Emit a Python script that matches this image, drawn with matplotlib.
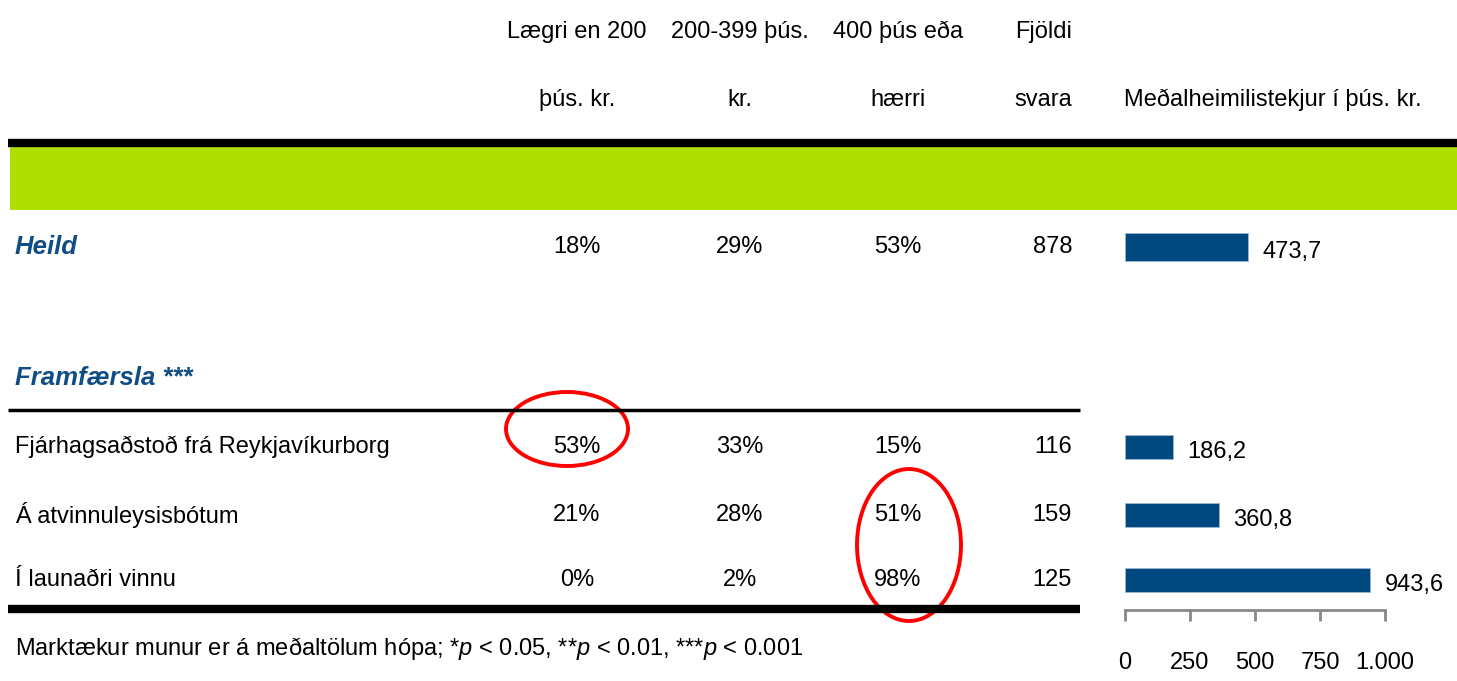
import matplotlib
matplotlib.use("Agg")
import matplotlib.pyplot as plt
from matplotlib.patches import Ellipse, Rectangle

# table data
col_heads = ["Lægri en 200\nþús. kr.", "200-399 þús.\nkr.", "400 þús eða\nhærri"]
count_head = "Fjöldi\nsvara"
bar_head = "Meðalheimilistekjur í þús. kr."
total_label = "Heild"
total_pct = ["18%", "29%", "53%"]
total_n = "878"
total_mean = 473.7
group_label = "Framfærsla ***"
rows = ["Fjárhagsaðstoð frá Reykjavíkurborg", "Á atvinnuleysisbótum", "Í launaðri vinnu"]
row_pct = [["53%", "33%", "15%"], ["21%", "28%", "51%"], ["0%", "2%", "98%"]]
row_n = ["116", "159", "125"]
row_mean = [186.2, 360.8, 943.6]
x_ticks = [0, 250, 500, 750, 1000]
x_ticklabels = ["0", "250", "500", "750", "1.000"]

FONT = ["Liberation Sans", "DejaVu Sans"]
plt.rcParams["font.family"] = FONT
plt.rcParams["mathtext.fontset"] = "custom"
plt.rcParams["mathtext.rm"] = "Liberation Sans"
plt.rcParams["mathtext.it"] = "Liberation Sans:italic"

BLUE = "#004880"
TITLE_BLUE = "#114D85"
GREEN = "#AEDF00"
W, H = 1457, 681
FS = 17

fig = plt.figure(figsize=(W / 100, H / 100), dpi=100)
ax = fig.add_axes([0, 0, 1, 1])
ax.set_xlim(0, W)
ax.set_ylim(H, 0)
ax.axis("off")

col_x = [577, 740, 898]
n_x = 1072
row_y = [447, 515, 580]
total_y = 247

# header
for x, t in zip(col_x, col_heads):
    l1, l2 = t.split("\n")
    ax.text(x, 32, l1, ha="center", va="center", fontsize=FS)
    ax.text(x, 100, l2, ha="center", va="center", fontsize=FS)
l1, l2 = count_head.split("\n")
ax.text(n_x, 32, l1, ha="right", va="center", fontsize=FS)
ax.text(n_x, 100, l2, ha="right", va="center", fontsize=FS)
ax.text(1273, 100, bar_head, ha="center", va="center", fontsize=FS)

# rules and band
ax.plot([8, W], [143, 143], color="black", lw=6, solid_capstyle="butt")
ax.add_patch(Rectangle((10, 147), W - 10, 63, color=GREEN, lw=0))
ax.plot([8, 1080], [410, 410], color="black", lw=2.5, solid_capstyle="butt")
ax.plot([8, 1080], [609, 609], color="black", lw=6, solid_capstyle="butt")

# total row
ax.text(15, total_y, total_label, ha="left", va="center", fontsize=18.5,
        color=TITLE_BLUE, fontweight="bold", fontstyle="italic")
for x, v in zip(col_x, total_pct):
    ax.text(x, total_y, v, ha="center", va="center", fontsize=FS)
ax.text(n_x, total_y, total_n, ha="right", va="center", fontsize=FS)

ax.text(15, 378, group_label, ha="left", va="center", fontsize=18.5,
        color=TITLE_BLUE, fontweight="bold", fontstyle="italic")

for y, lab, pcts, n in zip(row_y, rows, row_pct, row_n):
    ax.text(15, y, lab, ha="left", va="center", fontsize=FS)
    for x, v in zip(col_x, pcts):
        ax.text(x, y, v, ha="center", va="center", fontsize=FS)
    ax.text(n_x, y, n, ha="right", va="center", fontsize=FS)

ax.text(15, 648, r"Marktækur munur er á meðaltölum hópa; *$\it{p}$ < 0.05, "
        r"**$\it{p}$ < 0.01, ***$\it{p}$ < 0.001",
        ha="left", va="center", fontsize=FS)

# red circles
ax.add_patch(Ellipse((567, 429), 122, 74, fill=False, ec="red", lw=2.8))
ax.add_patch(Ellipse((909, 545), 104, 152, fill=False, ec="red", lw=2.8))

# bar panel
bx0, bx1 = 1125, 1385
ytop, ybot = 225, 610
bax = fig.add_axes([bx0 / W, 1 - ybot / H, (bx1 - bx0) / W, (ybot - ytop) / H])
bax.set_xlim(0, 1000)
bax.set_ylim(ybot, ytop)
bax.patch.set_alpha(0)
means = [total_mean] + row_mean
ys = [total_y] + row_y
heights = [28] + [24] * len(row_mean)
bax.barh(ys, means, height=heights, color=BLUE, edgecolor="#9DB7D0", lw=0.6)
for y, m in zip(ys, means):
    bax.text(m + 55, y + 5, f"{m:.1f}".replace(".", ","), ha="left", va="center",
             fontsize=FS, clip_on=False)
for s in ["top", "right", "left"]:
    bax.spines[s].set_visible(False)
bax.spines["bottom"].set_color("#888888")
bax.spines["bottom"].set_linewidth(2)
bax.set_yticks([])
bax.set_xticks(x_ticks)
bax.set_xticklabels(x_ticklabels, fontsize=FS)
bax.tick_params(axis="x", direction="out", length=8, width=2, color="#888888", pad=22)

fig.savefig("out.png", dpi=100)
